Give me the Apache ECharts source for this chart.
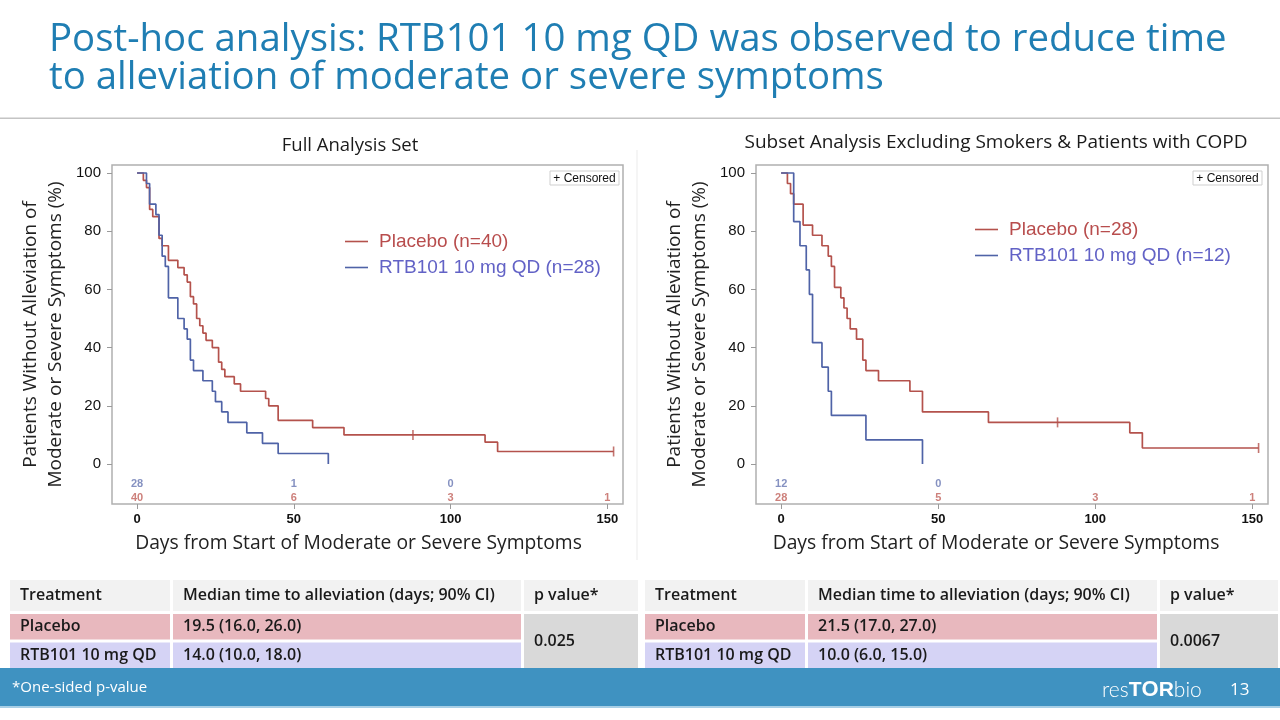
<!DOCTYPE html>
<html><head><meta charset="utf-8">
<script src="https://cdn.jsdelivr.net/npm/echarts@6/dist/echarts.min.js"></script>
<style>html,body{margin:0;padding:0;background:#fff}#c{width:1280px;height:720px}</style>
</head><body><div id="c"></div>
<script>
// ---------- data ----------
const dayTicks = [0, 50, 100, 150];
const pctTicks = [0, 20, 40, 60, 80, 100];

// Full Analysis Set
const fasPlaceboDays = [0, 2, 3, 4, 5, 7, 8, 10, 13, 15, 16, 17, 18, 19, 20, 21, 22, 24, 26, 27, 28, 31, 33, 41, 42, 45, 56, 66, 111, 115, 152];
const fasPlaceboPct  = [100, 97.5, 95, 87.5, 85, 77.5, 75, 70, 67.5, 65, 62.5, 57.5, 55, 50, 47.5, 45, 42.5, 40, 35, 32.5, 30, 27.5, 25, 22.5, 20, 15, 12.5, 10, 7.5, 4.3, 4.3];
const fasRtbDays = [0, 3, 4, 6, 7, 8, 9, 10, 13, 15, 16, 17, 18, 21, 24, 25, 27, 29, 35, 40, 45, 61];
const fasRtbPct  = [100, 96.4, 89.3, 85.7, 78.6, 71.4, 67.9, 57.1, 50, 46.4, 42.9, 35.7, 32.1, 28.6, 25, 21.4, 17.9, 14.3, 10.7, 7.1, 3.6, 0];
const fasPlaceboCensorDays = [88, 152];
const fasPlaceboCensorPct  = [10, 4.3];
const fasPlaceboRiskDays = [0, 50, 100, 150];
const fasPlaceboAtRisk   = [40, 6, 3, 1];
const fasRtbRiskDays = [0, 50, 100];
const fasRtbAtRisk   = [28, 1, 0];

// Subset excluding smokers & COPD
const subPlaceboDays = [0, 2, 3, 4, 7, 10, 13, 15, 16, 17, 19, 20, 21, 22, 24, 26, 27, 31, 41, 45, 66, 111, 115, 152];
const subPlaceboPct  = [100, 96.4, 92.9, 89.3, 82.1, 78.6, 75, 71.4, 67.9, 60.7, 57.1, 53.6, 50, 46.4, 42.9, 35.7, 32.1, 28.6, 25, 17.9, 14.3, 10.7, 5.5, 5.5];
const subRtbDays = [0, 4, 6, 8, 9, 10, 13, 15, 16, 27, 45];
const subRtbPct  = [100, 83.3, 75, 66.7, 58.3, 41.7, 33.3, 25, 16.7, 8.3, 0];
const subPlaceboCensorDays = [88, 152];
const subPlaceboCensorPct  = [14.3, 5.5];
const subPlaceboRiskDays = [0, 50, 100, 150];
const subPlaceboAtRisk   = [28, 5, 3, 1];
const subRtbRiskDays = [0, 50];
const subRtbAtRisk   = [12, 0];

const seriesNames = {
  fasPlacebo: 'Placebo (n=40)', fasRtb: 'RTB101 10 mg QD (n=28)',
  subPlacebo: 'Placebo (n=28)', subRtb: 'RTB101 10 mg QD (n=12)'
};

// tables
const tableHeaders = ['Treatment', 'Median time to alleviation (days; 90% CI)', 'p value*'];
const treatments = ['Placebo', 'RTB101 10 mg QD'];
const fasMedians = ['19.5 (16.0, 26.0)', '14.0 (10.0, 18.0)'];
const fasPValue = '0.025';
const subMedians = ['21.5 (17.0, 27.0)', '10.0 (6.0, 15.0)'];
const subPValue = '0.0067';

// ---------- styling ----------
const RED = '#b4524c', BLUE = '#4f63a7';
const RED_TXT = '#b84d4d', BLUE_TXT = '#6262c6';
const RISK_RED = '#c0605a', RISK_BLUE = '#6676b2';
const GOTHIC = '"Open Sans", Lato, sans-serif';
const ARIAL = '"Liberation Sans", Arial, sans-serif';
const RISK_Y_BLUE = -6.9, RISK_Y_RED = -11.7;

const zip = (a, b) => a.map((v, i) => [v, b[i]]);
const risk = (days, counts, y) => counts.map((c, i) => [days[i], y, c]);

function xAxis(gi, padR) {
  return {
    gridIndex: gi, type: 'value', min: -8, max: 155,
    axisLine: { show: false, onZero: false }, splitLine: { show: false },
    axisTick: { show: true, customValues: dayTicks, length: 5, lineStyle: { color: '#9a9a9a', width: 1 } },
    axisLabel: { customValues: dayTicks, fontFamily: ARIAL, fontWeight: 'bold', fontSize: 13, color: '#111', margin: 9 },
    name: 'Days from Start of Moderate or Severe Symptoms', nameLocation: 'middle', nameGap: 30,
    nameMoveOverlap: false,
    nameTextStyle: { fontFamily: GOTHIC, fontSize: 19.3, color: '#222', padding: [0, padR, 0, 0] }
  };
}
function yAxis(gi) {
  return {
    gridIndex: gi, type: 'value', min: -13.75, max: 102.75,
    axisLine: { show: false, onZero: false }, splitLine: { show: false },
    axisTick: { show: true, customValues: pctTicks, length: 5, lineStyle: { color: '#9a9a9a', width: 1 } },
    axisLabel: { customValues: pctTicks, fontFamily: ARIAL, fontSize: 15, color: '#111', margin: 11 },
    name: 'Patients Without Alleviation of\nModerate or Severe Symptoms (%)',
    nameLocation: 'middle', nameRotate: 90, nameGap: 44, nameMoveOverlap: false,
    nameTextStyle: { fontFamily: GOTHIC, fontSize: 19, lineHeight: 25, color: '#222' }
  };
}
function km(name, gi, days, pct, color) {
  return { name, type: 'line', xAxisIndex: gi, yAxisIndex: gi, step: 'end', symbol: 'none',
    data: zip(days, pct), lineStyle: { color, width: 1.7 }, itemStyle: { color }, animation: false, z: 3 };
}
function censor(gi, days, pct, color) {
  return { type: 'scatter', xAxisIndex: gi, yAxisIndex: gi, symbol: 'rect', symbolSize: [1.6, 10],
    data: zip(days, pct), itemStyle: { color }, animation: false, silent: true, z: 4 };
}
function riskSeries(gi, days, counts, y, color) {
  return { type: 'scatter', xAxisIndex: gi, yAxisIndex: gi, symbolSize: 1,
    itemStyle: { color: 'rgba(0,0,0,0)' }, data: risk(days, counts, y), animation: false, silent: true,
    label: { show: true, position: 'inside', formatter: p => String(p.data[2]),
      fontFamily: ARIAL, fontSize: 11, fontWeight: 'bold', color } };
}
function legend(names, left, top) {
  return { orient: 'vertical', left, top, padding: 0, icon: 'rect', itemWidth: 23, itemHeight: 1.6, itemGap: 7,
    selectedMode: false,
    textStyle: { fontFamily: ARIAL, fontSize: 19, lineHeight: 19, padding: [0, 0, 0, 6] },
    data: [ { name: names[0], textStyle: { color: RED_TXT } }, { name: names[1], textStyle: { color: BLUE_TXT } } ] };
}

// ---------- decorative graphics ----------
const graphic = [];
const T = (x, y, text, o) => graphic.push({ type: 'text', x, y, silent: true,
  style: Object.assign({ text, fontFamily: GOTHIC, fill: '#222', verticalAlign: 'middle' }, o) });
const R = (x, y, w, h, fill, stroke) => graphic.push({ type: 'rect', silent: true,
  shape: { x, y, width: w, height: h }, style: { fill, stroke: stroke || null, lineWidth: 1 } });

// title
T(49, 59, 'Post-hoc analysis: RTB101 10 mg QD was observed to reduce time\nto alleviation of moderate or severe symptoms',
  { fontSize: 38.4, lineHeight: 38, fill: '#1f7eb3', verticalAlign: 'middle' });
graphic.push({ type: 'rect', silent: true, shape: { x: 0, y: 117.5, width: 1280, height: 1.5 }, style: { fill: '#c4c4c4' } });
graphic.push({ type: 'rect', silent: true, shape: { x: 636.5, y: 150, width: 1, height: 410 }, style: { fill: '#ececec' } });

// subplot titles
T(350, 146, 'Full Analysis Set', { fontSize: 18.5, align: 'center', fill: '#1a1a1a' });
T(996, 143, 'Subset Analysis Excluding Smokers & Patients with COPD', { fontSize: 19, align: 'center', fill: '#1a1a1a' });

// censored keys
[[550, 171], [1193, 171]].forEach(([x, y]) => {
  R(x, y, 69, 14, '#fff', '#cfcfcf');
  T(x + 34.5, y + 7.5, '+ Censored', { fontFamily: ARIAL, fontSize: 12, align: 'center', fill: '#111' });
});

// tables
function table(x0, colW, medians, pval) {
  const gap = 3;
  const xs = [x0, x0 + colW[0] + gap, x0 + colW[0] + colW[1] + 2 * gap];
  const hdrY = 580, hdrH = 31, r1Y = 614, rH = 25.5;
  const tf = { fontSize: 16, fontWeight: 600, fill: '#1a1a1a' };
  for (let c = 0; c < 3; c++) {
    R(xs[c], hdrY, colW[c], hdrH, '#f2f2f2');
    T(xs[c] + 10, hdrY + hdrH / 2, tableHeaders[c], tf);
  }
  const fills = ['#e8b8be', '#d5d3f5'];
  for (let r = 0; r < 2; r++) {
    const y = r1Y + r * (rH + gap);
    R(xs[0], y, colW[0], rH, fills[r]);
    R(xs[1], y, colW[1], rH, fills[r]);
    T(xs[0] + 10, y + rH / 2, treatments[r], tf);
    T(xs[1] + 10, y + rH / 2, medians[r], tf);
  }
  R(xs[2], r1Y, colW[2], 2 * rH + gap, '#d9d9d9');
  T(xs[2] + 10, r1Y + rH + gap / 2, pval, tf);
}
table(10, [160, 348, 114], fasMedians, fasPValue);
table(645, [160, 349, 118], subMedians, subPValue);

// footer
R(0, 668, 1280, 38, '#3f92c1');
R(0, 706, 1280, 2, '#a8cfe6');
T(12, 688, '*One-sided p-value', { fontSize: 15, fill: '#fff' });
graphic.push({ type: 'text', x: 1102, y: 690, silent: true, style: {
  text: '{a|res}{b|T}{o|O}{b|R}{a|bio}', verticalAlign: 'middle',
  rich: { a: { fontFamily: 'Lato, sans-serif', fontSize: 21, fill: '#fff', fontWeight: 300 },
          b: { fontFamily: ARIAL, fontSize: 21, fill: '#fff', fontWeight: 'bold' },
          o: { fontFamily: ARIAL, fontSize: 22, fill: '#fff', fontWeight: 'bold' } } } });
T(1230, 690, '13', { fontSize: 17, fill: '#fff' });

// ---------- option ----------
const option = {
  backgroundColor: '#fff',
  animation: false,
  grid: [
    { left: 112, top: 165, width: 511, height: 339, show: true, borderColor: '#b0b0b0', borderWidth: 1.5, backgroundColor: '#fff', outerBoundsMode: 'none', containLabel: false },
    { left: 756, top: 165, width: 512, height: 339, show: true, borderColor: '#b0b0b0', borderWidth: 1.5, backgroundColor: '#fff', outerBoundsMode: 'none', containLabel: false }
  ],
  xAxis: [xAxis(0, 18), xAxis(1, 32)],
  yAxis: [yAxis(0), yAxis(1)],
  legend: [
    legend([seriesNames.fasPlacebo, seriesNames.fasRtb], 345, 232),
    legend([seriesNames.subPlacebo, seriesNames.subRtb], 975, 220)
  ],
  series: [
    km(seriesNames.fasPlacebo, 0, fasPlaceboDays, fasPlaceboPct, RED),
    km(seriesNames.fasRtb, 0, fasRtbDays, fasRtbPct, BLUE),
    censor(0, fasPlaceboCensorDays, fasPlaceboCensorPct, RED),
    riskSeries(0, fasRtbRiskDays, fasRtbAtRisk, RISK_Y_BLUE, RISK_BLUE),
    riskSeries(0, fasPlaceboRiskDays, fasPlaceboAtRisk, RISK_Y_RED, RISK_RED),
    km(seriesNames.subPlacebo, 1, subPlaceboDays, subPlaceboPct, RED),
    km(seriesNames.subRtb, 1, subRtbDays, subRtbPct, BLUE),
    censor(1, subPlaceboCensorDays, subPlaceboCensorPct, RED),
    riskSeries(1, subRtbRiskDays, subRtbAtRisk, RISK_Y_BLUE, RISK_BLUE),
    riskSeries(1, subPlaceboRiskDays, subPlaceboAtRisk, RISK_Y_RED, RISK_RED)
  ],
  graphic
};
const chart = echarts.init(document.getElementById('c'), null, { renderer: 'canvas' });
chart.setOption(option);
</script></body></html>
